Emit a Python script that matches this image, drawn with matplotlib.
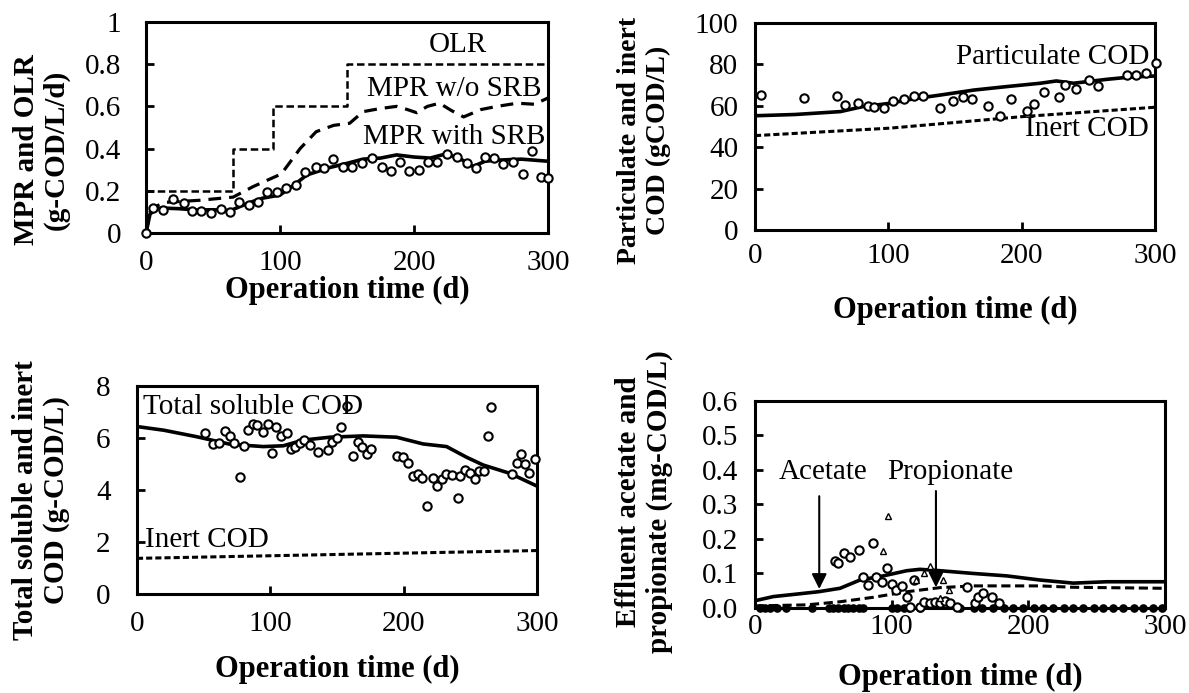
import numpy as np
import matplotlib
matplotlib.use('Agg')
import matplotlib.pyplot as plt

plt.rcParams['font.family'] = ['Liberation Serif', 'DejaVu Serif']

# ---- panel (a): MPR and OLR ----
olr_t = [0, 65, 65, 95, 95, 150, 150, 300]
olr_v = [0.2, 0.2, 0.4, 0.4, 0.6, 0.6, 0.8, 0.8]

mpr_nosrb_t = [0, 3, 7, 14, 40, 65, 80, 101, 115, 127, 140, 152, 162, 175, 187, 195, 202,
               210, 219, 228, 237, 250, 262, 277, 290, 300]
mpr_nosrb_v = [0.0, 0.1, 0.125, 0.145, 0.155, 0.17, 0.22, 0.28, 0.4, 0.48, 0.51, 0.52, 0.575,
               0.59, 0.6, 0.585, 0.57, 0.6, 0.615, 0.58, 0.55, 0.585, 0.6, 0.615, 0.61, 0.64]

mpr_srb_t = [0, 3, 8, 13, 25, 38, 50, 63, 70, 80, 87, 100, 110, 120, 137, 150, 162, 175,
             187, 200, 212, 224, 235, 244, 253, 262, 280, 300]
mpr_srb_v = [0.0, 0.09, 0.115, 0.118, 0.115, 0.109, 0.11, 0.106, 0.125, 0.15, 0.165, 0.18,
             0.225, 0.275, 0.31, 0.33, 0.35, 0.355, 0.37, 0.36, 0.355, 0.375, 0.35, 0.315,
             0.34, 0.345, 0.35, 0.34]

mpr_obs_t = [0, 5.5, 13, 20, 28, 34, 41, 48.5, 55.7, 62.7, 69.6, 77, 83.8, 90.5, 97.5, 104.5,
             111.7, 119, 126.6, 133, 139.8, 147, 154, 161.4, 168.4, 175.9, 182.8, 189.6, 196.5,
             203.5, 210.7, 217.4, 224.4, 231.8, 239.3, 246, 253, 260, 266.6, 274, 281, 287.8,
             295, 300]
mpr_obs_v = [0.0, 0.117, 0.109, 0.161, 0.141, 0.106, 0.106, 0.093, 0.112, 0.098, 0.148, 0.133,
             0.148, 0.193, 0.193, 0.215, 0.227, 0.288, 0.314, 0.306, 0.351, 0.314, 0.314, 0.33,
             0.354, 0.314, 0.295, 0.338, 0.294, 0.298, 0.335, 0.338, 0.374, 0.362, 0.33, 0.31,
             0.362, 0.354, 0.327, 0.335, 0.28, 0.39, 0.267, 0.26]

# ---- panel (b): particulate and inert COD ----
part_t = [0, 30, 64, 80, 101, 120, 139, 164, 189, 214, 226, 239, 264, 280, 300]
part_v = [55.2, 55.8, 57.2, 59.5, 61.2, 63.5, 65.2, 67.6, 69.3, 70.9, 72.0, 70.9, 72.8, 73.8, 74.4]
inert_b_t = [0, 101, 201, 300]
inert_b_v = [45.6, 49.2, 54.8, 59.3]
part_obs_t = [4.5, 36.8, 61.3, 67.5, 77.5, 84.5, 89.5, 96.8, 103.8, 111.8, 119.3, 126.3, 138.8,
              148.8, 155.8, 163, 174.5, 183.8, 191.8, 203.8, 209.3, 216.8, 228, 232.5, 240.8,
              250.8, 257.5, 278.8, 285.8, 293, 300.8]
part_obs_v = [65.2, 63.9, 64.9, 60.4, 61.5, 59.9, 59.3, 58.8, 62.5, 63.3, 64.9, 64.9, 58.8, 62.3,
              64.1, 63.1, 59.9, 55.2, 63.1, 57.7, 60.8, 66.6, 64.4, 70.0, 68.3, 72.5, 69.6, 75.1,
              75.1, 75.7, 80.6]

# ---- panel (c): total soluble and inert COD ----
tsc_t = [0, 20, 44.7, 69.7, 94.7, 109.7, 124.7, 144.7, 169.7, 194.7, 214.7, 232.2, 247.2,
         259.7, 279.7, 300]
tsc_v = [6.44, 6.3, 6.05, 5.76, 5.67, 5.7, 5.92, 6.03, 6.08, 6.03, 5.77, 5.67, 5.26, 4.96,
         4.64, 4.15]
inert_c_t = [0, 300]
inert_c_v = [1.37, 1.67]
tsc_obs_t = [51, 56.7, 61.7, 66, 69.7, 73, 77.2, 80.2, 83, 86.7, 89.7, 94.2, 98, 101.5, 104,
             108, 112.2, 115.2, 118.7, 122.2, 125.2, 129.7, 136, 143.5, 146, 149.7, 153, 157.7,
             162.2, 165.5, 168.5, 172.2, 175.2, 194.7, 199.2, 203.5, 206.7, 211, 213.5, 217.2,
             222.2, 225.2, 229, 231.7, 236, 240.5, 242.2, 246, 249.7, 253.5, 256.7, 260.2,
             263.5, 265.5, 281, 284.7, 287.7, 291, 294, 298.5]
tsc_obs_v = [6.18, 5.76, 5.82, 6.27, 6.08, 5.82, 4.51, 5.69, 6.31, 6.54, 6.5, 6.24, 6.54, 5.43,
             6.41, 6.08, 6.18, 5.56, 5.67, 5.79, 5.92, 5.73, 5.45, 5.54, 5.83, 6.01, 6.44, 7.23,
             5.31, 5.86, 5.67, 5.37, 5.58, 5.31, 5.28, 5.03, 4.54, 4.62, 4.47, 3.4, 4.47, 4.15,
             4.41, 4.6, 4.58, 3.68, 4.54, 4.77, 4.67, 4.41, 4.73, 4.74, 6.08, 7.2, 4.62, 5.03,
             5.38, 4.99, 4.67, 5.18]

# ---- panel (d): effluent acetate and propionate ----
ace_t = [0, 13.4, 30, 46.3, 62.2, 76.8, 93.9, 111, 120.7, 135.4, 159.8, 184.2, 208.5, 232.9,
         257.3, 300]
ace_v = [0.021, 0.033, 0.04, 0.047, 0.057, 0.081, 0.093, 0.108, 0.112, 0.108, 0.1, 0.093,
         0.081, 0.072, 0.076, 0.076]
pro_t = [0, 37.8, 62.2, 86.6, 111, 135.4, 159.8, 208.5, 232.9, 300]
pro_v = [0.006, 0.009, 0.018, 0.031, 0.047, 0.059, 0.064, 0.064, 0.06, 0.057]
ace_obs_t = [58.5, 61, 65.4, 69.5, 76.1, 86.1, 96.8, 79.3, 82.5, 88.5, 93.1, 100, 103.2, 107.3,
             111, 113.4, 116.6, 121, 123.9, 128.3, 132, 135.6, 139.3, 142.4, 147.8, 155.1, 161,
             163.5, 166.7, 173.3, 178.8]
ace_obs_v = [0.136, 0.129, 0.159, 0.149, 0.168, 0.188, 0.115, 0.091, 0.067, 0.089, 0.076, 0.07,
             0.052, 0.064, 0.031, 0.004, 0.081, 0.004, 0.018, 0.014, 0.018, 0.014, 0.021, 0.015,
             0.004, 0.062, 0.015, 0.033, 0.043, 0.031, 0.015]
pro_obs_t = [97.1, 93.4, 128, 123.9, 137.8, 142.2, 135.3, 117.8]
pro_obs_v = [0.267, 0.166, 0.122, 0.1, 0.081, 0.052, 0.028, 0.081]
zero_obs_t = [4, 7, 11, 16, 23, 42, 54, 57, 61, 65, 68, 72, 76, 79, 100, 104, 109, 113, 121,
              150, 160, 166, 174, 182, 189, 196, 204, 211, 218, 226, 233, 240, 248, 255, 262,
              269, 277, 284, 291, 298]

TICK = 21
ANN = 21
XLAB = 22
YLAB = 21

fig = plt.figure(figsize=(11.89, 6.93), dpi=100)


def style(ax, xpad, ypad):
    for s in ax.spines.values():
        s.set_linewidth(2.2)
    ax.tick_params(direction='in', length=6, width=2, labelsize=TICK)
    ax.tick_params(axis='x', pad=xpad)
    ax.tick_params(axis='y', pad=ypad)
    ax.set_xlim(0, 300)
    ax.set_xticks([0, 100, 200, 300])


circ = dict(ls='none', marker='o', ms=6, mfc='white', mec='black', mew=1.5, clip_on=False)

# (a)
ax1 = fig.add_axes([0.1228, 0.6638, 0.3381, 0.3045])
ax1.plot(olr_t, olr_v, color='black', lw=1.8, dashes=(3, 1.5))
ax1.plot(mpr_nosrb_t, mpr_nosrb_v, color='black', lw=2.3, dashes=(4, 2.5))
ax1.plot(mpr_srb_t, mpr_srb_v, color='black', lw=2.6)
ax1.plot(mpr_obs_t, mpr_obs_v, zorder=3, **circ)
ax1.set_ylim(0, 1)
ax1.set_yticks([0, 0.2, 0.4, 0.6, 0.8, 1])
ax1.set_yticklabels(['0', '0.2', '0.4', '0.6', '0.8', '1'])
style(ax1, 12, 18)
ax1.set_xlabel('Operation time (d)', fontsize=XLAB, fontweight='bold', labelpad=0.5)
ax1.text(233, 0.89, 'OLR', fontsize=ANN, ha='center', va='center')
ax1.text(230, 0.68, 'MPR w/o SRB', fontsize=ANN, ha='center', va='center')
ax1.text(230, 0.455, 'MPR with SRB', fontsize=ANN, ha='center', va='center')
fig.text(0.035, 1 - 150 / 693, 'MPR and OLR\n(g-COD/L/d)', rotation=90, fontsize=YLAB,
         fontweight='bold', ha='center', va='center', linespacing=1.1)

# (b)
ax2 = fig.add_axes([0.635, 0.6681, 0.3364, 0.2987])
ax2.plot(part_t, part_v, color='black', lw=2.6)
ax2.plot(inert_b_t, inert_b_v, color='black', lw=2.2, dashes=(2, 1))
ax2.plot(part_obs_t, part_obs_v, zorder=3, **circ)
ax2.set_ylim(0, 100)
ax2.set_yticks([0, 20, 40, 60, 80, 100])
style(ax2, 9, 12)
ax2.set_xlabel('Operation time (d)', fontsize=XLAB, fontweight='bold', labelpad=20)
ax2.text(223, 83.6, 'Particulate COD', fontsize=ANN, ha='center', va='center')
ax2.text(249, 49, 'Inert COD', fontsize=ANN, ha='center', va='center')
fig.text(0.542, 1 - 140 / 693, 'Particulate and inert\nCOD (gCOD/L)', rotation=90,
         fontsize=YLAB - 1, fontweight='bold', ha='center', va='center', linespacing=1.2)

# (c)
ax3 = fig.add_axes([0.1152, 0.1429, 0.3364, 0.3001])
ax3.plot(tsc_t, tsc_v, color='black', lw=2.6)
ax3.plot(inert_c_t, inert_c_v, color='black', lw=2.2, dashes=(2, 1))
ax3.plot(tsc_obs_t, tsc_obs_v, zorder=3, **circ)
ax3.set_ylim(0, 8)
ax3.set_yticks([0, 2, 4, 6, 8])
style(ax3, 12, 19)
ax3.set_xlabel('Operation time (d)', fontsize=XLAB, fontweight='bold', labelpad=13)
ax3.text(4.5, 7.2, 'Total soluble COD', fontsize=ANN, ha='left', va='center')
ax3.text(6, 2.07, 'Inert COD', fontsize=ANN, ha='left', va='center')
fig.text(0.0345, 1 - 500 / 693, 'Total soluble and inert\nCOD (g-COD/L)', rotation=90,
         fontsize=YLAB, fontweight='bold', ha='center', va='center', linespacing=1.2)

# (d)
ax4 = fig.add_axes([0.635, 0.1227, 0.3448, 0.2987])
ax4.plot(ace_t, ace_v, color='black', lw=2.6)
ax4.plot(pro_t, pro_v, color='black', lw=2.2, dashes=(3, 1.5))
ax4.plot(zero_obs_t, np.zeros(len(zero_obs_t)), ls='none', marker='o', ms=5, mfc='black',
         mec='black', mew=1.2, clip_on=False, zorder=3)
ax4.plot(ace_obs_t, ace_obs_v, zorder=3, **circ)
ax4.plot(pro_obs_t, pro_obs_v, ls='none', marker='^', ms=5, mfc='white', mec='black',
         mew=1.0, zorder=4)
ax4.set_ylim(0, 0.6)
ax4.set_yticks([0, 0.1, 0.2, 0.3, 0.4, 0.5, 0.6])
ax4.set_yticklabels(['0.0', '0.1', '0.2', '0.3', '0.4', '0.5', '0.6'])
style(ax4, 4, 12)
ax4.set_xlabel('Operation time (d)', fontsize=XLAB, fontweight='bold', labelpad=17)
ax4.text(50, 0.395, 'Acetate', fontsize=ANN, ha='center', va='center')
ax4.text(142.6, 0.395, 'Propionate', fontsize=ANN, ha='center', va='center')
arr = dict(arrowstyle='-|>,head_length=0.9,head_width=0.45', color='black', lw=1.5)
ax4.annotate('', xy=(47, 0.047), xytext=(47, 0.332), arrowprops=arr)
ax4.annotate('', xy=(132.4, 0.052), xytext=(132.4, 0.347), arrowprops=arr)
fig.text(0.5415, 1 - 502 / 693, 'Effluent acetate and\npropionate (mg-COD/L)', rotation=90,
         fontsize=YLAB, fontweight='bold', ha='center', va='center', linespacing=1.2)

fig.savefig('out.png', dpi=100)
